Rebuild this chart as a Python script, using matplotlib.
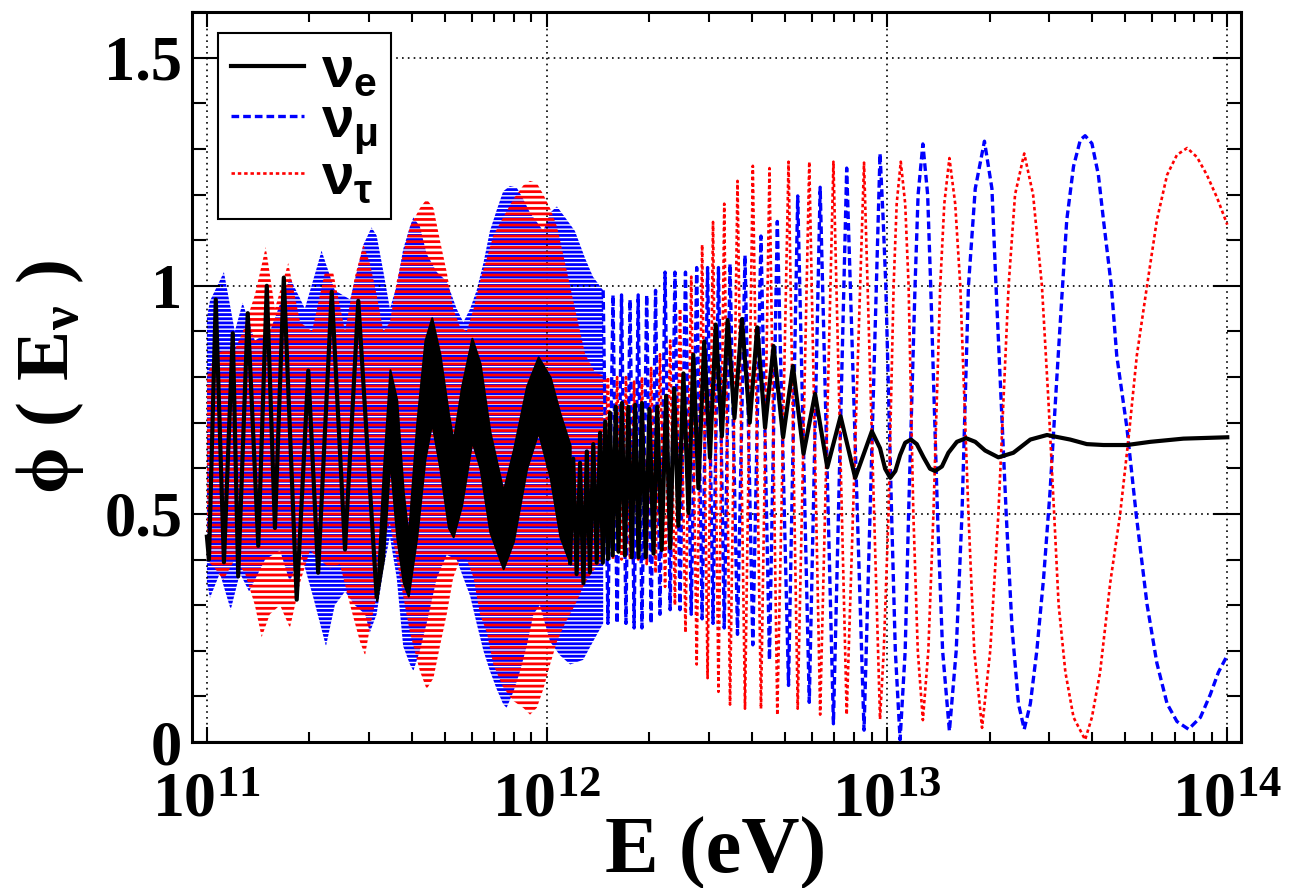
import numpy as np
import matplotlib
matplotlib.use("Agg")
import matplotlib.pyplot as plt
from matplotlib.ticker import LogLocator, MultipleLocator, NullFormatter

plt.rcParams['font.family'] = ['Liberation Serif', 'DejaVu Serif']
plt.rcParams['font.weight'] = 'bold'
plt.rcParams['mathtext.fontset'] = 'custom'
plt.rcParams['mathtext.rm'] = 'Liberation Serif:bold'
plt.rcParams['mathtext.it'] = 'Liberation Serif:bold'
plt.rcParams['mathtext.bf'] = 'Liberation Serif:bold'
plt.rcParams['mathtext.sf'] = 'Liberation Sans'
plt.rcParams['hatch.linewidth'] = 2.0

# ---------------- nu_e (black) ----------------
# left part: thin zigzag line
e_thin_logE = [11.000, 11.006, 11.026, 11.050, 11.076, 11.092, 11.120, 11.151, 11.176, 11.200,
               11.226, 11.264, 11.298, 11.327, 11.367, 11.406, 11.445, 11.499]
e_thin_val = [0.45, 0.40, 0.97, 0.394, 0.896, 0.363, 0.94, 0.43, 1.00, 0.469,
              1.018, 0.312, 0.814, 0.371, 0.987, 0.422, 0.967, 0.319]
# middle part: oscillation too fast to resolve -> envelope
e_band_logE = [11.499, 11.519, 11.538, 11.558, 11.577, 11.592, 11.617, 11.641, 11.661, 11.685,
               11.710, 11.724, 11.749, 11.779, 11.803, 11.832, 11.871, 11.901, 11.940, 11.974,
               12.009, 12.038, 12.068]
e_band_hi = [0.33, 0.60, 0.816, 0.75, 0.55, 0.45, 0.70, 0.88, 0.93, 0.85,
             0.72, 0.66, 0.78, 0.885, 0.83, 0.68, 0.55, 0.64, 0.78, 0.844,
             0.80, 0.72, 0.65]
e_band_lo = [0.31, 0.40, 0.62, 0.45, 0.35, 0.32, 0.45, 0.62, 0.70, 0.60,
             0.47, 0.45, 0.52, 0.66, 0.60, 0.46, 0.38, 0.44, 0.60, 0.68,
             0.58, 0.45, 0.39]
# right part: resolved oscillation
e_logE = [12.068, 12.077, 12.087, 12.097, 12.107, 12.117, 12.126, 12.136, 12.146, 12.156,
          12.164, 12.171, 12.179, 12.185, 12.193, 12.202, 12.210, 12.220, 12.229, 12.239,
          12.249, 12.259, 12.269, 12.279, 12.290, 12.301, 12.313, 12.324, 12.337, 12.350,
          12.362, 12.374, 12.386, 12.401, 12.416, 12.430, 12.445, 12.462, 12.479, 12.496,
          12.514, 12.531, 12.551, 12.573, 12.596, 12.618, 12.641, 12.666, 12.694, 12.723,
          12.754, 12.788, 12.824, 12.863, 12.906, 12.955, 12.979, 12.994, 13.009, 13.024,
          13.038, 13.053, 13.070, 13.087, 13.107, 13.126, 13.141, 13.161, 13.180, 13.205,
          13.232, 13.259, 13.288, 13.327, 13.371, 13.421, 13.470, 13.538, 13.587, 13.636,
          13.705, 13.774, 13.871, 14.000]
e_val = [0.393, 0.621, 0.368, 0.612, 0.348, 0.637, 0.372, 0.653, 0.393, 0.678,
         0.393, 0.702, 0.401, 0.722, 0.409, 0.735, 0.417, 0.743, 0.409, 0.735,
         0.405, 0.739, 0.405, 0.743, 0.405, 0.730, 0.413, 0.735, 0.421, 0.759,
         0.425, 0.775, 0.474, 0.808, 0.502, 0.849, 0.556, 0.878, 0.623, 0.915,
         0.670, 0.925, 0.710, 0.927, 0.700, 0.909, 0.689, 0.868, 0.668, 0.824,
         0.632, 0.763, 0.602, 0.714, 0.579, 0.681, 0.644, 0.599, 0.579, 0.594,
         0.629, 0.656, 0.663, 0.653, 0.624, 0.599, 0.594, 0.604, 0.634, 0.658,
         0.666, 0.658, 0.639, 0.624, 0.634, 0.663, 0.673, 0.663, 0.653, 0.651,
         0.651, 0.658, 0.665, 0.668]

# ---------------- nu_mu (blue) ----------------
mu_hi_logE = [11.000, 11.009, 11.050, 11.082, 11.105, 11.141, 11.185, 11.244, 11.288, 11.327,
              11.337, 11.376, 11.421, 11.460, 11.484, 11.499, 11.519, 11.538, 11.558, 11.577,
              11.597, 11.607, 11.626, 11.646, 11.676, 11.705, 11.734, 11.754, 11.774, 11.793,
              11.813, 11.832, 11.852, 11.871, 11.891, 11.911, 11.930, 11.950, 11.970, 11.989,
              12.009, 12.029, 12.053, 12.082, 12.112, 12.135, 12.165]
mu_hi = [0.93, 0.967, 1.03, 0.90, 0.963, 0.88, 0.90, 1.018, 0.95, 1.05,
         1.077, 0.99, 0.97, 1.09, 1.128, 1.11, 1.03, 0.95, 1.00, 1.08,
         1.13, 1.15, 1.13, 1.07, 1.03, 1.01, 0.95, 0.92, 0.95, 0.99,
         1.05, 1.12, 1.166, 1.207, 1.219, 1.215, 1.19, 1.16, 1.14, 1.12,
         1.16, 1.174, 1.15, 1.12, 1.06, 1.02, 0.99]
mu_lo_logE = [11.000, 11.009, 11.038, 11.070, 11.097, 11.124, 11.171, 11.215, 11.244, 11.274,
              11.313, 11.350, 11.376, 11.406, 11.435, 11.465, 11.479, 11.499, 11.519, 11.538,
              11.558, 11.577, 11.597, 11.607, 11.626, 11.646, 11.676, 11.705, 11.734, 11.754,
              11.774, 11.793, 11.813, 11.832, 11.852, 11.871, 11.881, 11.901, 11.921, 11.940,
              11.960, 11.979, 12.009, 12.038, 12.068, 12.106, 12.135, 12.165]
mu_lo = [0.35, 0.316, 0.37, 0.29, 0.37, 0.33, 0.40, 0.42, 0.35, 0.42,
         0.316, 0.21, 0.30, 0.33, 0.30, 0.28, 0.24, 0.28, 0.38, 0.45,
         0.36, 0.21, 0.17, 0.156, 0.20, 0.26, 0.36, 0.41, 0.40, 0.36,
         0.32, 0.26, 0.20, 0.156, 0.116, 0.083, 0.075, 0.11, 0.156, 0.21,
         0.28, 0.30, 0.22, 0.19, 0.17, 0.18, 0.22, 0.26]
mu_logE = [12.165, 12.179, 12.194, 12.206, 12.219, 12.232, 12.244, 12.256, 12.268, 12.279,
           12.293, 12.306, 12.319, 12.332, 12.347, 12.362, 12.376, 12.391, 12.407, 12.424,
           12.440, 12.456, 12.472, 12.488, 12.504, 12.521, 12.538, 12.560, 12.582, 12.605,
           12.629, 12.654, 12.677, 12.710, 12.737, 12.771, 12.803, 12.842, 12.881, 12.932,
           12.979, 12.988, 12.996, 13.013, 13.024, 13.038, 13.053, 13.063, 13.082, 13.091,
           13.105, 13.119, 13.128, 13.148, 13.163, 13.183, 13.203, 13.220, 13.239, 13.259,
           13.286, 13.308, 13.320, 13.350, 13.367, 13.386, 13.403, 13.421, 13.440, 13.460,
           13.479, 13.499, 13.514, 13.528, 13.548, 13.568, 13.582, 13.602, 13.621, 13.636,
           13.659, 13.675, 13.705, 13.732, 13.764, 13.793, 13.823, 13.852, 13.886, 13.921,
           13.950, 13.974, 14.000]
mu_val = [0.99, 0.26, 0.98, 0.26, 0.98, 0.26, 0.97, 0.25, 0.98, 0.25,
          0.98, 0.26, 0.99, 0.28, 1.03, 0.29, 1.03, 0.29, 1.03, 0.28,
          1.04, 0.27, 1.04, 0.26, 1.04, 0.25, 1.048, 0.236, 1.067, 0.213,
          1.109, 0.18, 1.141, 0.124, 1.197, 0.087, 1.216, 0.04, 1.258, 0.026,
          1.29, 1.15, 1.0, 0.5, 0.2, 0.005, 0.2, 0.5, 1.0, 1.2,
          1.311, 1.2, 1.0, 0.5, 0.2, 0.024, 0.2, 0.5, 1.0, 1.213,
          1.317, 1.213, 1.0, 0.5, 0.252, 0.084, 0.028, 0.084, 0.2, 0.36,
          0.55, 0.8, 0.98, 1.144, 1.262, 1.32, 1.329, 1.312, 1.243, 1.144,
          1.0, 0.847, 0.688, 0.5, 0.302, 0.173, 0.084, 0.045, 0.028, 0.054,
          0.104, 0.153, 0.19]

# ---------------- nu_tau (red) ----------------
tau_hi_logE = [11.000, 11.024, 11.053, 11.082, 11.106, 11.141, 11.173, 11.200, 11.239, 11.274,
               11.309, 11.347, 11.371, 11.406, 11.435, 11.460, 11.479, 11.499, 11.519, 11.538,
               11.558, 11.577, 11.597, 11.626, 11.646, 11.666, 11.685, 11.705, 11.724, 11.744,
               11.764, 11.784, 11.803, 11.823, 11.842, 11.871, 11.901, 11.930, 11.950, 11.970,
               11.989, 12.009, 12.029, 12.053, 12.082, 12.112, 12.141, 12.179]
tau_hi = [0.80, 0.85, 0.86, 0.86, 0.90, 0.98, 1.085, 0.95, 1.05, 0.92,
          0.90, 1.03, 1.03, 0.90, 1.02, 1.09, 1.05, 0.98, 0.90, 0.92,
          1.01, 1.07, 1.13, 1.17, 1.19, 1.17, 1.10, 1.03, 0.95, 0.91,
          0.90, 0.95, 1.01, 1.06, 1.11, 1.15, 1.19, 1.22, 1.23, 1.225,
          1.20, 1.17, 1.13, 1.05, 0.95, 0.85, 0.81, 0.80]
tau_lo_logE = [11.000, 11.024, 11.048, 11.082, 11.112, 11.141, 11.161, 11.185, 11.215, 11.244,
               11.274, 11.303, 11.332, 11.362, 11.391, 11.421, 11.450, 11.465, 11.479, 11.499,
               11.519, 11.538, 11.558, 11.577, 11.597, 11.626, 11.646, 11.666, 11.685, 11.705,
               11.724, 11.744, 11.764, 11.784, 11.803, 11.823, 11.842, 11.871, 11.901, 11.930,
               11.950, 11.970, 11.989, 12.009, 12.029, 12.053, 12.082, 12.112, 12.141, 12.165]
tau_lo = [0.40, 0.38, 0.355, 0.40, 0.37, 0.30, 0.23, 0.28, 0.30, 0.25,
          0.35, 0.42, 0.40, 0.38, 0.39, 0.30, 0.22, 0.19, 0.25, 0.32,
          0.44, 0.48, 0.40, 0.32, 0.24, 0.156, 0.116, 0.14, 0.21, 0.28,
          0.36, 0.40, 0.40, 0.36, 0.28, 0.24, 0.17, 0.12, 0.09, 0.075,
          0.06, 0.075, 0.116, 0.17, 0.22, 0.26, 0.30, 0.35, 0.38, 0.40]
tau_logE = [12.165, 12.179, 12.194, 12.206, 12.219, 12.232, 12.244, 12.256, 12.268, 12.279,
            12.293, 12.306, 12.319, 12.332, 12.347, 12.362, 12.376, 12.391, 12.407, 12.424,
            12.440, 12.456, 12.472, 12.488, 12.504, 12.521, 12.538, 12.560, 12.582, 12.605,
            12.629, 12.654, 12.677, 12.710, 12.737, 12.771, 12.803, 12.842, 12.881, 12.932,
            12.979, 12.990, 13.004, 13.019, 13.028, 13.040, 13.053, 13.063, 13.077, 13.090,
            13.105, 13.121, 13.136, 13.156, 13.168, 13.183, 13.200, 13.215, 13.239, 13.256,
            13.279, 13.303, 13.327, 13.357, 13.376, 13.403, 13.429, 13.455, 13.474, 13.491,
            13.504, 13.524, 13.548, 13.582, 13.602, 13.626, 13.656, 13.685, 13.710, 13.734,
            13.764, 13.793, 13.823, 13.852, 13.882, 13.911, 13.940, 13.970, 14.000]
tau_val = [0.40, 0.80, 0.40, 0.80, 0.40, 0.80, 0.40, 0.79, 0.40, 0.80,
           0.39, 0.82, 0.37, 0.85, 0.34, 0.88, 0.30, 0.95, 0.24, 1.02,
           0.17, 1.09, 0.14, 1.14, 0.11, 1.18, 0.082, 1.23, 0.073, 1.263,
           0.073, 1.258, 0.059, 1.272, 0.073, 1.272, 0.06, 1.272, 0.06, 1.27,
           0.05, 0.2, 0.5, 1.0, 1.18, 1.272, 1.18, 1.0, 0.5, 0.2,
           0.048, 0.2, 0.5, 1.0, 1.18, 1.28, 1.18, 1.0, 0.5, 0.2,
           0.031, 0.2, 0.5, 1.0, 1.2, 1.29, 1.2, 1.0, 0.75, 0.5,
           0.302, 0.153, 0.054, 0.005, 0.054, 0.153, 0.35, 0.5, 0.668, 0.847,
           1.0, 1.144, 1.243, 1.287, 1.302, 1.282, 1.243, 1.193, 1.134]

E = lambda v: 10.0 ** np.asarray(v)

fig = plt.figure(figsize=(12.97, 8.88), dpi=100)
ax = fig.add_axes([0.148, 0.1644, 0.809, 0.822])

mu_kw = dict(color='blue', lw=2.4, linestyle=(0, (2.3, 1.2)))
tau_kw = dict(color='red', lw=1.9, linestyle=(0, (1.3, 1.1)))

# dense bands (fast oscillation, drawn as hatched envelopes)
ax.fill(np.concatenate([E(mu_hi_logE), E(mu_lo_logE)[::-1]]),
        np.concatenate([mu_hi, mu_lo[::-1]]),
        facecolor='none', edgecolor='blue', hatch='----', linewidth=0, zorder=2)
ax.fill(np.concatenate([E(tau_hi_logE), E(tau_lo_logE)[::-1]]),
        np.concatenate([tau_hi, tau_lo[::-1]]),
        facecolor='none', edgecolor='red', hatch='---', linewidth=0, zorder=3)

l_mu, = ax.plot(E(mu_logE), mu_val, zorder=4, **mu_kw)
l_tau, = ax.plot(E(tau_logE), tau_val, zorder=5, **tau_kw)

ax.fill_between(E(e_band_logE), e_band_lo, e_band_hi, color='black', linewidth=1.5, zorder=6)
ax.plot(E(e_thin_logE), e_thin_val, color='black', lw=3, zorder=7)
l_e, = ax.plot(E(e_logE), e_val, color='black', lw=3, zorder=7)

ax.set_xscale('log')
ax.set_xlim(10 ** 10.956, 10 ** 14.041)
ax.set_ylim(0, 1.6)

ax.set_xticks([1e11, 1e12, 1e13, 1e14])
ax.set_xticklabels([r'$\mathbf{10^{11}}$', r'$\mathbf{10^{12}}$',
                    r'$\mathbf{10^{13}}$', r'$\mathbf{10^{14}}$'])
ax.xaxis.set_minor_locator(LogLocator(base=10, subs=np.arange(2, 10), numticks=20))
ax.xaxis.set_minor_formatter(NullFormatter())
ax.set_yticks([0, 0.5, 1.0, 1.5])
ax.set_yticklabels(['0', '0.5', '1', '1.5'])
ax.yaxis.set_minor_locator(MultipleLocator(0.1))

ax.tick_params(which='both', direction='in', top=True, right=True, width=1.5)
ax.tick_params(axis='y', which='major', length=20, pad=7, labelsize=45)
ax.tick_params(axis='y', which='minor', length=10)
ax.tick_params(axis='x', which='major', length=11, pad=22, labelsize=46)
ax.tick_params(axis='x', which='minor', length=7)
for s in ax.spines.values():
    s.set_linewidth(2.2)

ax.grid(True, which='major', color='black', linestyle=(0, (1, 2.5)), linewidth=1.2)
ax.set_axisbelow(False)

leg = ax.legend([l_e, l_mu, l_tau],
                [r'$\mathsf{\nu_{e}}$', r'$\mathsf{\nu_{\mu}}$', r'$\mathsf{\nu_{\tau}}$'],
                loc='upper left', bbox_to_anchor=(0.0248, 0.971), borderaxespad=0,
                fontsize=42, handlelength=1.25, handletextpad=0.3, labelspacing=-0.05,
                borderpad=0.22, fancybox=False, framealpha=1, edgecolor='black')
leg.get_frame().set_linewidth(1.5)
leg.set_zorder(10)

fig.text(716 / 1297, 1 - 873 / 888, 'E (eV)', ha='center', va='baseline',
         fontsize=58, fontweight='bold')
fig.text(50 / 1297, 1 - 377 / 888, r'$\phi\ (\ \mathrm{E}_{\nu}\ )$', rotation=90,
         ha='center', va='center', fontsize=54)

fig.savefig('out.png', dpi=100)
